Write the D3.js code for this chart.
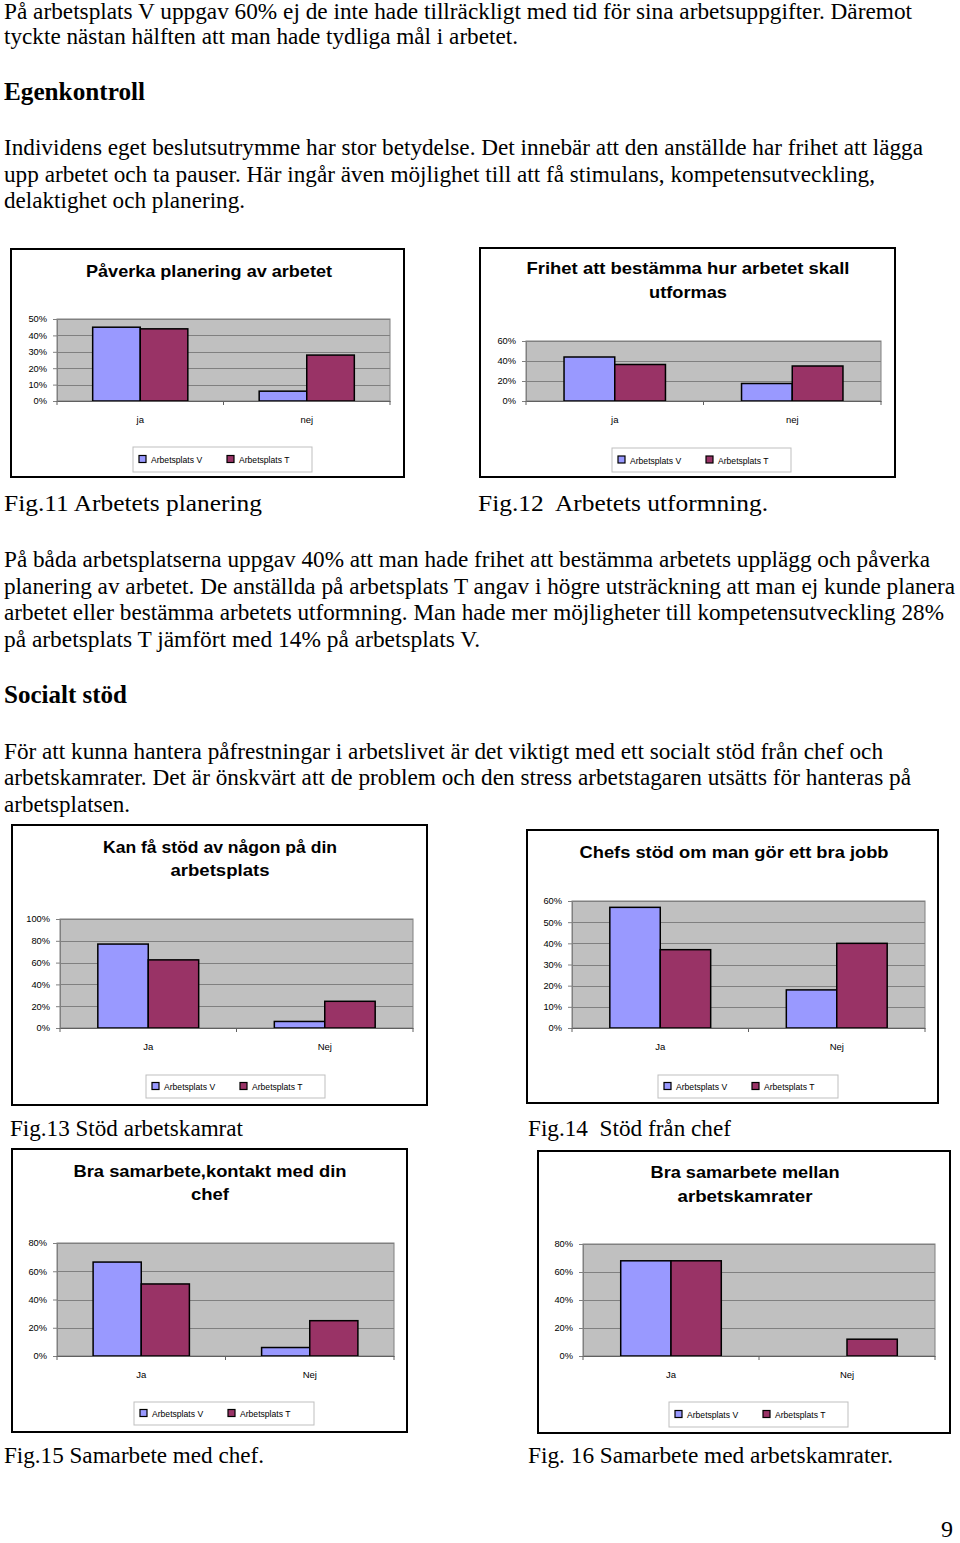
<!DOCTYPE html>
<html><head><meta charset="utf-8">
<script src="https://cdn.jsdelivr.net/npm/d3@7"></script>
<style>body{margin:0;background:#fff;overflow:hidden} svg{display:block} text{white-space:pre}</style>
</head><body>
<svg id="page" width="960" height="1543"></svg>
<script>
// ---------- chart data ----------
const seriesNames = ["Arbetsplats V", "Arbetsplats T"];
const seriesColors = ["#9999FF", "#993366"];

const fig11Title = ["Påverka planering av arbetet"];
const fig11Categories = ["ja", "nej"];
const fig11V = [0.45, 0.06];
const fig11T = [0.44, 0.28];
const fig11Ticks = [0, 0.1, 0.2, 0.3, 0.4, 0.5];

const fig12Title = ["Frihet att bestämma hur arbetet skall", "utformas"];
const fig12Categories = ["ja", "nej"];
const fig12V = [0.44, 0.175];
const fig12T = [0.365, 0.35];
const fig12Ticks = [0, 0.2, 0.4, 0.6];

const fig13Title = ["Kan få stöd av någon på din", "arbetsplats"];
const fig13Categories = ["Ja", "Nej"];
const fig13V = [0.77, 0.06];
const fig13T = [0.625, 0.245];
const fig13Ticks = [0, 0.2, 0.4, 0.6, 0.8, 1.0];

const fig14Title = ["Chefs stöd om man gör ett bra jobb"];
const fig14Categories = ["Ja", "Nej"];
const fig14V = [0.57, 0.18];
const fig14T = [0.37, 0.40];
const fig14Ticks = [0, 0.1, 0.2, 0.3, 0.4, 0.5, 0.6];

const fig15Title = ["Bra samarbete,kontakt med din", "chef"];
const fig15Categories = ["Ja", "Nej"];
const fig15V = [0.665, 0.06];
const fig15T = [0.51, 0.25];
const fig15Ticks = [0, 0.2, 0.4, 0.6, 0.8];

const fig16Title = ["Bra samarbete mellan", "arbetskamrater"];
const fig16Categories = ["Ja", "Nej"];
const fig16V = [0.68, 0];
const fig16T = [0.68, 0.12];
const fig16Ticks = [0, 0.2, 0.4, 0.6, 0.8];

// ---------- page text ----------
const pageText = [
  "På arbetsplats V uppgav 60% ej de inte hade tillräckligt med tid för sina arbetsuppgifter. Däremot",
  "tyckte nästan hälften att man hade tydliga mål i arbetet.",
  "Egenkontroll",
  "Individens eget beslutsutrymme har stor betydelse. Det innebär att den anställde har frihet att lägga",
  "upp arbetet och ta pauser. Här ingår även möjlighet till att få stimulans, kompetensutveckling,",
  "delaktighet och planering.",
  "Fig.11 Arbetets planering",
  "Fig.12  Arbetets utformning.",
  "På båda arbetsplatserna uppgav 40% att man hade frihet att bestämma arbetets upplägg och påverka",
  "planering av arbetet. De anställda på arbetsplats T angav i högre utsträckning att man ej kunde planera",
  "arbetet eller bestämma arbetets utformning. Man hade mer möjligheter till kompetensutveckling 28%",
  "på arbetsplats T jämfört med 14% på arbetsplats V.",
  "Socialt stöd",
  "För att kunna hantera påfrestningar i arbetslivet är det viktigt med ett socialt stöd från chef och",
  "arbetskamrater. Det är önskvärt att de problem och den stress arbetstagaren utsätts för hanteras på",
  "arbetsplatsen.",
  "Fig.13 Stöd arbetskamrat",
  "Fig.14  Stöd från chef",
  "Fig.15 Samarbete med chef.",
  "Fig. 16 Samarbete med arbetskamrater.",
  "9"
];

// ---------- layout ----------
// [x, baseline, rightEdge, fontSize, bold]
const textLayout = [
  [4, 19, 912, 23, 0],
  [4, 44, 518, 23, 0],
  [4, 100, 145, 25, 1],
  [4, 155, 923, 23, 0],
  [4, 182, 875, 23, 0],
  [4, 208, 245, 23, 0],
  [4, 511, 262, 23, 0],
  [478, 511, 768, 23, 0],
  [4, 567, 930, 23, 0],
  [4, 594, 955, 23, 0],
  [4, 620, 944, 23, 0],
  [4, 647, 480, 23, 0],
  [4, 703, 127, 25, 1],
  [4, 759, 883, 23, 0],
  [4, 785, 911, 23, 0],
  [4, 812, 130, 23, 0],
  [10, 1136, 243, 23, 0],
  [528, 1136, 731, 23, 0],
  [4, 1463, 264, 23, 0],
  [528, 1463, 893, 23, 0],
  [941, 1537, 953, 23, 0]
];

const chartLayout = [
  {box:[11,249,404,477], plot:[57,319,390,401], titleX:209, titleY:[277], titleW:[246], legend:[133,447,312,472]},
  {box:[480,248,895,477], plot:[526,341,881,401], titleX:688, titleY:[274, 298], titleW:[323, 78], legend:[612,448,791,472]},
  {box:[12,825,427,1105], plot:[60,919,413,1028], titleX:220, titleY:[853, 876], titleW:[234, 99], legend:[146,1075,325,1098]},
  {box:[527,830,938,1103], plot:[572,901,925,1028], titleX:734, titleY:[858], titleW:[309], legend:[658,1075,838,1098]},
  {box:[12,1149,407,1432], plot:[57,1243,394,1356], titleX:210, titleY:[1177, 1200], titleW:[273, 38], legend:[134,1402,314,1425]},
  {box:[538,1151,950,1433], plot:[583,1244,935,1356], titleX:745, titleY:[1178, 1202], titleW:[189, 135], legend:[669,1402,848,1427]}
];

const charts = [
  {title: fig11Title, cats: fig11Categories, series: [fig11V, fig11T], ticks: fig11Ticks},
  {title: fig12Title, cats: fig12Categories, series: [fig12V, fig12T], ticks: fig12Ticks},
  {title: fig13Title, cats: fig13Categories, series: [fig13V, fig13T], ticks: fig13Ticks},
  {title: fig14Title, cats: fig14Categories, series: [fig14V, fig14T], ticks: fig14Ticks},
  {title: fig15Title, cats: fig15Categories, series: [fig15V, fig15T], ticks: fig15Ticks},
  {title: fig16Title, cats: fig16Categories, series: [fig16V, fig16T], ticks: fig16Ticks}
].map((c, i) => Object.assign(c, chartLayout[i]));

const svg = d3.select("#page");
const SANS = "'Liberation Sans', Arial, sans-serif";
const SERIF = "'Liberation Serif', 'Times New Roman', serif";

// body text
svg.append("g").selectAll("text").data(pageText).join("text")
  .attr("x", (d, i) => textLayout[i][0])
  .attr("y", (d, i) => textLayout[i][1])
  .attr("textLength", (d, i) => textLayout[i][2] - textLayout[i][0])
  .attr("lengthAdjust", "spacingAndGlyphs")
  .attr("font-family", SERIF)
  .attr("font-size", (d, i) => textLayout[i][3])
  .attr("font-weight", (d, i) => textLayout[i][4] ? "bold" : "normal")
  .attr("fill", "#000")
  .text(d => d);

function drawChart(c) {
  const g = svg.append("g");
  const [bx0, by0, bx1, by1] = c.box;
  g.append("rect").attr("x", bx0).attr("y", by0).attr("width", bx1 - bx0).attr("height", by1 - by0)
    .attr("fill", "#fff").attr("stroke", "#000").attr("stroke-width", 2);

  c.title.forEach((line, i) => {
    g.append("text").attr("x", c.titleX).attr("y", c.titleY[i])
      .attr("text-anchor", "middle").attr("font-family", SANS).attr("font-weight", "bold")
      .attr("font-size", 16.5).attr("textLength", c.titleW[i]).attr("lengthAdjust", "spacingAndGlyphs")
      .attr("fill", "#000").text(line);
  });

  const [px0, py0, px1, py1] = c.plot;
  const y = d3.scaleLinear().domain([0, d3.max(c.ticks)]).range([py1, py0]);
  const x0 = d3.scaleBand().domain(c.cats).range([px0, px1]).padding(0);
  const x1 = d3.scaleBand().domain(seriesNames).range([0, x0.bandwidth()]).paddingInner(0).paddingOuter(0.75);

  g.append("rect").attr("x", px0).attr("y", py0).attr("width", px1 - px0).attr("height", py1 - py0)
    .attr("fill", "#C0C0C0").attr("stroke", "#808080").attr("stroke-width", 1);

  g.append("g").selectAll("line").data(c.ticks.filter(t => t > 0)).join("line")
    .attr("x1", px0).attr("x2", px1).attr("y1", d => Math.round(y(d)) + 0.5).attr("y2", d => Math.round(y(d)) + 0.5)
    .attr("stroke", "#808080").attr("stroke-width", 1);

  // bars
  const rows = [];
  c.cats.forEach((cat, ci) => c.series.forEach((arr, si) => rows.push({cat, name: seriesNames[si], si, v: arr[ci]})));
  g.append("g").selectAll("rect").data(rows.filter(r => r.v > 0)).join("rect")
    .attr("x", d => x0(d.cat) + x1(d.name))
    .attr("y", d => y(d.v))
    .attr("width", x1.bandwidth())
    .attr("height", d => y(0) - y(d.v))
    .attr("fill", d => seriesColors[d.si])
    .attr("stroke", "#000").attr("stroke-width", 1.5);

  // y axis
  const ya = g.append("g").attr("transform", `translate(${px0},0)`)
    .call(d3.axisLeft(y).tickValues(c.ticks).tickFormat(d3.format(".0%")).tickSize(4).tickPadding(6));
  ya.select(".domain").attr("stroke", "#808080");
  ya.selectAll(".tick line").attr("stroke", "#808080");
  ya.selectAll(".tick text").attr("font-family", SANS).attr("font-size", 9.3).attr("fill", "#000");

  // x axis
  const xa = g.append("g").attr("transform", `translate(0,${py1})`)
    .call(d3.axisBottom(x0).tickSize(0).tickPadding(15));
  xa.select(".domain").attr("stroke", "#606060");
  xa.selectAll(".tick text").attr("font-family", SANS).attr("font-size", 9.5).attr("fill", "#000");
  const bounds = x0.domain().map(d => x0(d)).concat([x0.range()[1]]);
  xa.append("g").selectAll("line").data(bounds).join("line")
    .attr("x1", d => d).attr("x2", d => d).attr("y1", 0).attr("y2", 4).attr("stroke", "#606060");

  // legend
  const [lx0, ly0, lx1, ly1] = c.legend;
  const lg = g.append("g");
  lg.append("rect").attr("x", lx0).attr("y", ly0).attr("width", lx1 - lx0).attr("height", ly1 - ly0)
    .attr("fill", "#fff").attr("stroke", "#BFBFBF").attr("stroke-width", 1);
  const cy = (ly0 + ly1) / 2;
  seriesNames.forEach((name, i) => {
    const ox = lx0 + 6 + i * 88;
    lg.append("rect").attr("x", ox).attr("y", cy - 4).attr("width", 7).attr("height", 7)
      .attr("fill", seriesColors[i]).attr("stroke", "#000").attr("stroke-width", 1.2);
    lg.append("text").attr("x", ox + 12).attr("y", cy + 3.5)
      .attr("font-family", SANS).attr("font-size", 8.6).attr("fill", "#000").text(name);
  });
}

charts.forEach(drawChart);
</script>
</body></html>
